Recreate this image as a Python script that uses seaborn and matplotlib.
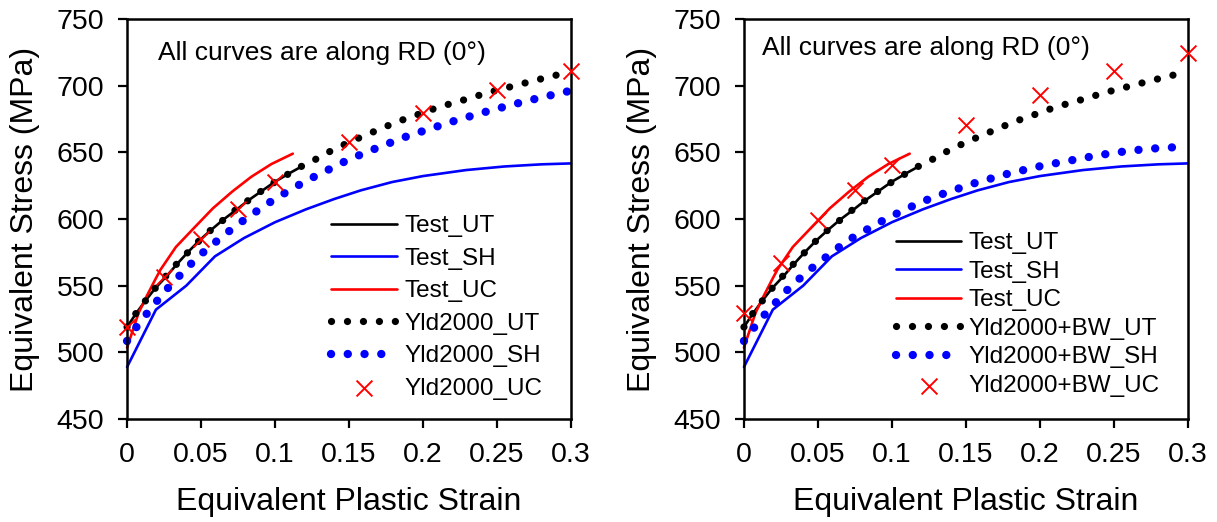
import matplotlib
matplotlib.use("Agg")
import matplotlib.pyplot as plt
import seaborn as sns

# Experimental flow curves (same tests in both panels)
strain_test_ut = [0, 0.006, 0.0126, 0.019, 0.027, 0.034, 0.041, 0.049, 0.057, 0.065,
                  0.074, 0.082, 0.091, 0.1, 0.11, 0.119]
stress_test_ut = [519, 529, 539, 548, 557.5, 566.5, 575, 584, 592, 599.5,
                  607, 614, 621, 628, 634.5, 640]

strain_test_sh = [0, 0.0195, 0.040, 0.0594, 0.079, 0.100, 0.121, 0.14, 0.158, 0.179,
                  0.2, 0.229, 0.255, 0.28, 0.3]
stress_test_sh = [489, 532, 550, 572, 585.7, 597.6, 607.3, 615, 621.5, 627.7,
                  632.2, 636.7, 639.4, 641, 641.7]

strain_test_uc = [0, 0.0077, 0.0122, 0.0189, 0.0226, 0.033, 0.045, 0.058, 0.071, 0.084,
                  0.0975, 0.112]
stress_test_uc = [503.5, 529.3, 539.8, 554.3, 562, 579, 593, 608, 620.5, 631.7,
                  641.2, 649]

# Model predictions: uniaxial tension (identical for both models)
strain_yld_ut = [0, 0.006, 0.0126, 0.0192, 0.0265, 0.0337, 0.0413, 0.049, 0.0568, 0.0652,
                 0.0735, 0.0823, 0.0912, 0.1, 0.1096, 0.119, 0.1286, 0.1383, 0.148, 0.158,
                 0.168, 0.178, 0.188, 0.199, 0.209, 0.2195, 0.2298, 0.24, 0.25, 0.261,
                 0.272, 0.282, 0.293, 0.3]
stress_yld_ut = [519, 529.2, 538.9, 548.3, 557.5, 566.5, 575.2, 584, 591.9, 599.4,
                 607, 614.3, 621.3, 627.8, 634.2, 640.2, 645.4, 651.4, 656.5, 661.4,
                 666.1, 670.8, 675.1, 679.3, 683.3, 686.8, 690, 693.5, 696.6, 699.7,
                 702.9, 705.7, 708.7, 710.5]

# Yld2000 shear prediction
strain_yld_sh = [0, 0.006, 0.0129, 0.0195, 0.0266, 0.034, 0.0415, 0.049, 0.0576, 0.066,
                 0.0744, 0.0834, 0.092, 0.101, 0.111, 0.120, 0.130, 0.1396, 0.149, 0.1596,
                 0.1696, 0.18, 0.19, 0.2004, 0.2106, 0.221, 0.2317, 0.242, 0.2527, 0.263,
                 0.2737, 0.284, 0.2947, 0.3]
stress_yld_sh = [508.5, 518.5, 528.4, 537.6, 547, 555.8, 564.5, 572.7, 580.7, 588.3,
                 595.6, 602.6, 609.3, 615.8, 622.3, 628, 633.7, 638.9, 644.2, 649.1,
                 653.6, 658.1, 662.4, 666.1, 669.8, 673.5, 677, 680.3, 683.5, 686.5,
                 689.5, 692.2, 695, 696.2]

# Yld2000+BW shear prediction
strain_bw_sh = [0, 0.0068, 0.0136, 0.0209, 0.028, 0.036, 0.044, 0.0526, 0.0615, 0.070,
                0.080, 0.089, 0.0986, 0.1085, 0.118, 0.128, 0.1386, 0.1488, 0.159, 0.1697,
                0.180, 0.191, 0.2016, 0.2124, 0.223, 0.234, 0.2446, 0.2555, 0.266, 0.277,
                0.2877, 0.3]
stress_bw_sh = [508.5, 518.5, 527.8, 536.7, 545.4, 553.8, 561.5, 569, 576.6, 583.8,
                590.1, 595.9, 601.6, 606.8, 611.8, 616.3, 620.5, 624.3, 628, 631.2,
                634.5, 637.2, 640, 642.2, 644.4, 646.7, 648.7, 650.4, 651.8, 652.9,
                653.6, 654.5]

# Uniaxial compression predictions at discrete strains
strain_uc_pts = [0, 0.025, 0.05, 0.075, 0.1, 0.15, 0.2, 0.25, 0.3]
stress_yld_uc = [519, 556.5, 585, 607.5, 628, 658, 679.5, 697, 710.7]
stress_bw_uc = [529.5, 567, 599, 621.5, 640.5, 670.5, 693, 710.7, 724.5]

x_ticks = [0, 0.05, 0.1, 0.15, 0.2, 0.25, 0.3]
x_tick_labels = ["0", "0.05", "0.1", "0.15", "0.2", "0.25", "0.3"]
y_ticks = [450, 500, 550, 600, 650, 700, 750]

sns.set_theme(style="ticks")
plt.rcParams["font.family"] = ["Liberation Sans", "DejaVu Sans"]
plt.rcParams.update({
    "text.color": "black",
    "axes.labelcolor": "black",
    "xtick.color": "black",
    "ytick.color": "black",
})

fig = plt.figure(figsize=(12.17, 5.22), dpi=100)
ax_left = fig.add_axes([0.1044, 0.1973, 0.3648, 0.7663])
ax_right = fig.add_axes([0.6113, 0.1973, 0.3648, 0.7663])

BLACK, BLUE, RED = "#000000", "#0000ff", "#ff0000"


def draw_panel(ax, model, sh_x, sh_y, uc_y, legend_anchor, label_gap, note_xy):
    sns.lineplot(x=strain_test_ut, y=stress_test_ut, ax=ax, color=BLACK, lw=1.9,
                 estimator=None, sort=False, label="Test_UT", clip_on=False)
    sns.lineplot(x=strain_test_sh, y=stress_test_sh, ax=ax, color=BLUE, lw=1.9,
                 estimator=None, sort=False, label="Test_SH", clip_on=False)
    sns.lineplot(x=strain_test_uc, y=stress_test_uc, ax=ax, color=RED, lw=1.9,
                 estimator=None, sort=False, label="Test_UC", clip_on=False)
    sns.lineplot(x=strain_yld_ut, y=stress_yld_ut, ax=ax, color=BLACK, lw=5.2,
                 linestyle=(0, (0.01, 2.2)), dash_capstyle="round",
                 estimator=None, sort=False, label=f"{model}_UT", clip_on=False)
    sns.lineplot(x=sh_x, y=sh_y, ax=ax, color=BLUE, lw=6.0,
                 linestyle=(0, (0.01, 2.0)), dash_capstyle="round",
                 estimator=None, sort=False, label=f"{model}_SH", clip_on=False)
    sns.scatterplot(x=strain_uc_pts, y=uc_y, ax=ax, color=RED, marker="x",
                    s=130, linewidth=1.4, label=f"{model}_UC", clip_on=False, zorder=5)

    ax.set_xlim(0, 0.3)
    ax.set_ylim(450, 750)
    ax.set_xticks(x_ticks)
    ax.set_xticklabels(x_tick_labels)
    ax.set_yticks(y_ticks)
    ax.tick_params(direction="out", length=6.5, width=1.6, labelsize=20.5,
                   colors="black", pad=10)
    for sp in ax.spines.values():
        sp.set_visible(True)
        sp.set_linewidth(1.8)
        sp.set_color("black")
    ax.set_xlabel("Equivalent Plastic Strain", fontsize=23, labelpad=14)
    ax.set_ylabel("Equivalent Stress (MPa)", fontsize=23, labelpad=12)
    ax.text(note_xy[0], note_xy[1], "All curves are along RD (0\u00b0)",
            transform=ax.transAxes, fontsize=19, va="center", ha="left")
    ax.legend(loc="upper left", bbox_to_anchor=legend_anchor, frameon=False,
              fontsize=17.5, handlelength=2.7, handletextpad=0.3,
              labelspacing=label_gap, borderpad=0, borderaxespad=0)


draw_panel(ax_left, "Yld2000", strain_yld_sh, stress_yld_sh, stress_yld_uc,
           (0.46, 0.5095), 0.43, (0.07, 0.914))
draw_panel(ax_right, "Yld2000+BW", strain_bw_sh, stress_bw_sh, stress_bw_uc,
           (0.342, 0.4675), 0.27, (0.0405, 0.927))

fig.savefig("out.png", dpi=100)
